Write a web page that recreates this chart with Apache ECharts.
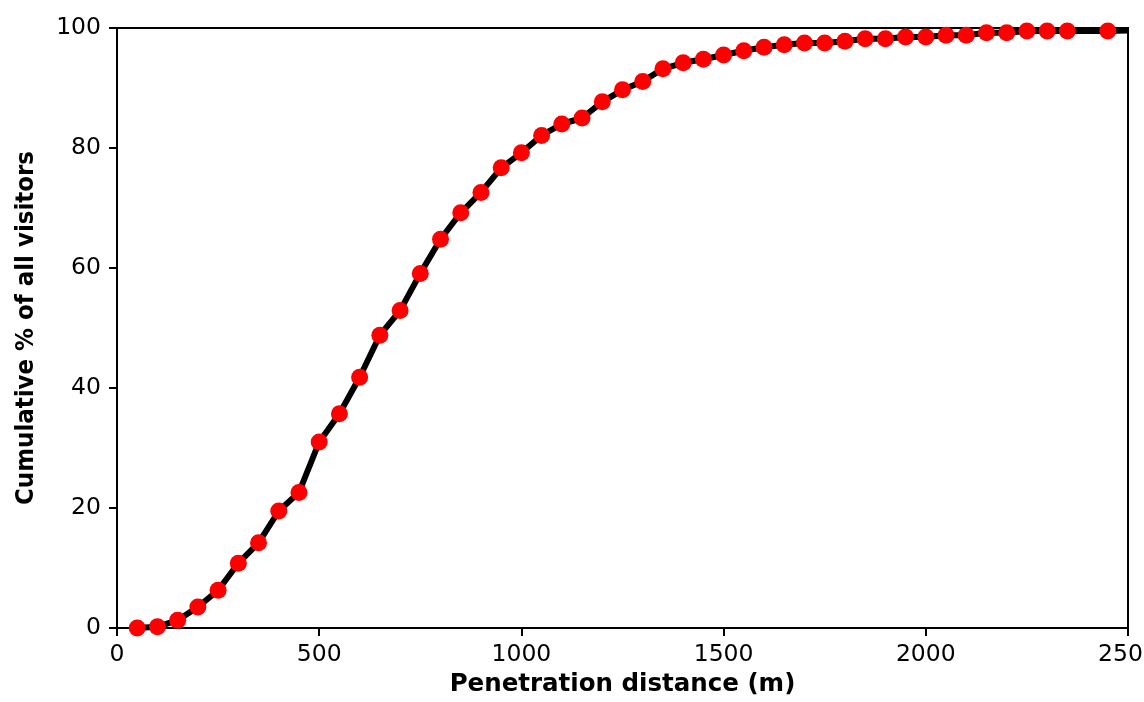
<!DOCTYPE html>
<html>
<head>
<meta charset="utf-8">
<script src="https://cdn.jsdelivr.net/npm/echarts@6/dist/echarts.min.js"></script>
<style>
html,body{margin:0;padding:0;background:#fff;}
#c{width:1144px;height:702px;}
</style>
</head>
<body>
<div id="c"></div>
<script>
const distances = [50,100,150,200,250,300,350,400,450,500,550,600,650,700,750,800,850,900,950,1000,
  1050,1100,1150,1200,1250,1300,1350,1400,1450,1500,1550,1600,1650,1700,1750,1800,1850,1900,1950,2000,
  2050,2100,2150,2200,2250,2300,2350,2450];
const cumulative = [0,0.2,1.3,3.5,6.3,10.8,14.2,19.5,22.6,31.0,35.7,41.8,48.8,52.9,59.1,64.8,69.2,72.6,76.7,79.2,
  82.1,84.0,85.0,87.7,89.7,91.1,93.2,94.2,94.8,95.5,96.2,96.8,97.2,97.5,97.5,97.8,98.2,98.2,98.5,98.5,
  98.8,98.8,99.2,99.2,99.5,99.5,99.5,99.5];
const lineEnd = [2500, 99.6];
const xTicks = [0,500,1000,1500,2000,2500];
const yTicks = [0,20,40,60,80,100];

const data = distances.map((d,i)=>[d,cumulative[i]]);
data.push({value: lineEnd, symbol: 'none'});

const chart = echarts.init(document.getElementById('c'), null, {renderer:'canvas'});
chart.setOption({
  animation:false,
  backgroundColor:'#fff',
  grid:{left:117,right:16,top:28,bottom:74,show:true,borderColor:'#000',borderWidth:2,
        containLabel:false,outerBoundsMode:'none'},
  xAxis:{
    type:'value', min:xTicks[0], max:xTicks[xTicks.length-1], interval:500,
    name:'Penetration distance (m)', nameLocation:'middle', nameGap:34,
    nameTextStyle:{fontFamily:'DejaVu Sans',fontWeight:'bold',fontSize:24.5,color:'#000'},
    axisLine:{lineStyle:{color:'#000',width:2}},
    axisTick:{show:true,length:8,inside:false,lineStyle:{color:'#000',width:2}},
    axisLabel:{fontFamily:'DejaVu Sans',fontSize:23.5,color:'#000',margin:15,showMaxLabel:true,
      formatter:v=>String(v)},
    splitLine:{show:false}
  },
  yAxis:{
    type:'value', min:yTicks[0], max:yTicks[yTicks.length-1], interval:20,
    name:'Cumulative % of all visitors', nameLocation:'middle', nameGap:78, nameRotate:90,
    nameTextStyle:{fontFamily:'DejaVu Sans Condensed',fontWeight:'bold',fontSize:25.5,color:'#000'},
    axisLine:{lineStyle:{color:'#000',width:2}},
    axisTick:{show:true,length:8,inside:false,lineStyle:{color:'#000',width:2}},
    axisLabel:{fontFamily:'DejaVu Sans',fontSize:23.5,color:'#000',margin:16,formatter:v=>String(v)},
    splitLine:{show:false}
  },
  series:[{
    type:'line', data:data, symbol:'circle', symbolSize:17, showSymbol:true,
    lineStyle:{color:'#000',width:6},
    itemStyle:{color:'#ff0000',borderWidth:0},
    clip:false, z:3
  }]
});
</script>
</body>
</html>
